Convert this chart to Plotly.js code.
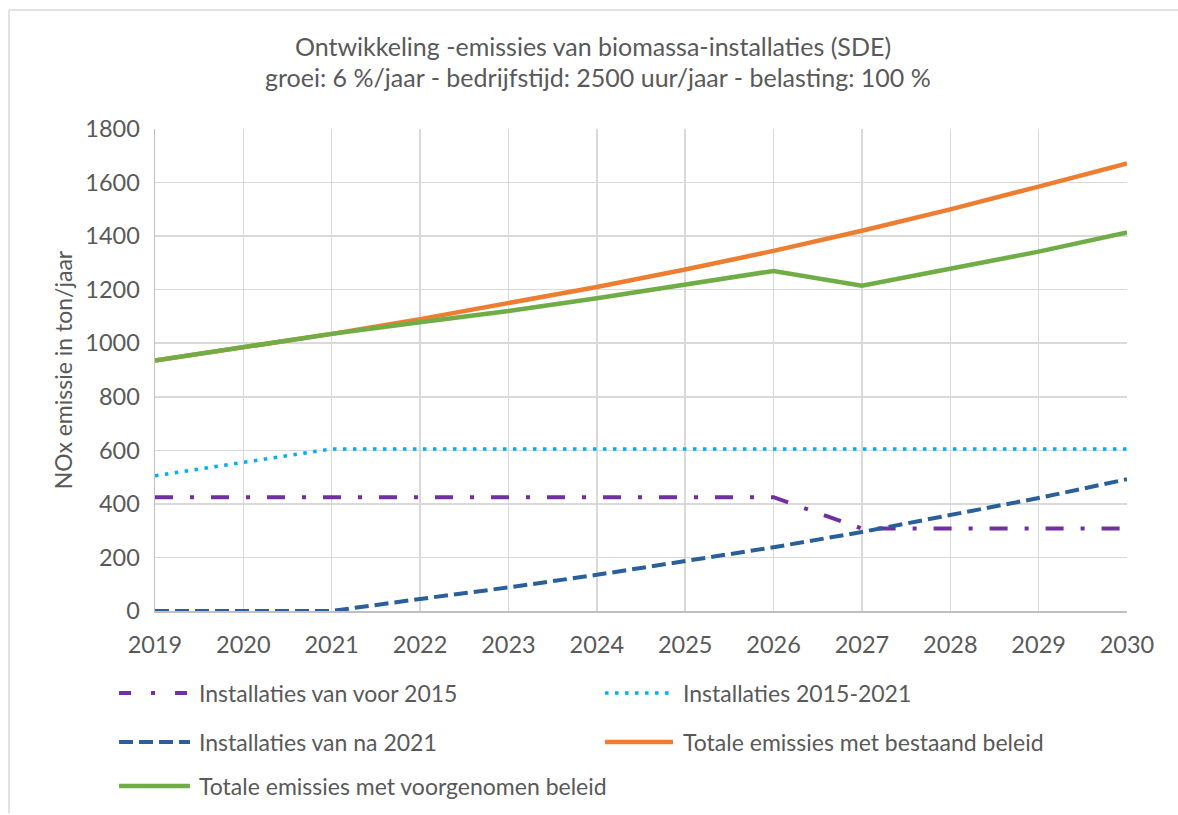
<!DOCTYPE html>
<html>
<head>
<meta charset="utf-8">
<script src="https://cdn.plot.ly/plotly-3.0.1.min.js"></script>
<style>html,body{margin:0;padding:0;background:#fff;}#chart{width:1178px;height:815px;}</style>
</head>
<body>
<div id="chart"></div>
<script>
const years = [2019, 2020, 2021, 2022, 2023, 2024, 2025, 2026, 2027, 2028, 2029, 2030];
const voor2015 = [425, 425, 425, 425, 425, 425, 425, 425, 308, 308, 308, 308];
const tussen2015_2021 = [505, 555, 605, 605, 605, 605, 605, 605, 605, 605, 605, 605];
const na2021 = [0, 0, 0, 45, 88, 135, 185, 238, 295, 357, 422, 492];
const bestaandBeleid = [935, 985, 1035, 1090, 1150, 1210, 1275, 1345, 1420, 1500, 1585, 1671];
const voorgenomenBeleid = [935, 985, 1035, 1078, 1120, 1168, 1218, 1270, 1215, 1277, 1342, 1414];
const seriesNames = ["Installaties van voor 2015", "Installaties 2015-2021", "Installaties van na 2021", "Totale emissies met bestaand beleid", "Totale emissies met voorgenomen beleid"];
const titleLine1 = "Ontwikkeling -emissies van biomassa-installaties (SDE)";
const titleLine2 = "groei: 6 %/jaar - bedrijfstijd: 2500 uur/jaar - belasting: 100 %";
const yTitle = "NOx emissie in ton/jaar";

const FONT = "Lato, 'Open Sans', sans-serif";
const GREY = "#595959";

const styles = [
  {color: "#7030a0", width: 4, dash: "18px,17px,4px,17px", legendDash: "12px,20px,4px,20px"},
  {color: "#00b0f0", width: 3.5, dash: "3.5px,6.5px", legendDash: "3.5px,6.5px"},
  {color: "#2a6099", width: 4, dash: "14px,6px", legendDash: "14px,6px"},
  {color: "#ed7d31", width: 4.5, dash: "solid", legendDash: "solid"},
  {color: "#70ad47", width: 4.5, dash: "solid", legendDash: "solid"}
];
const seriesData = [voor2015, tussen2015_2021, na2021, bestaandBeleid, voorgenomenBeleid];

const traces = seriesData.map((vals, i) => ({
  x: years, y: vals, name: seriesNames[i], mode: "lines", showlegend: false,
  line: {color: styles[i].color, width: styles[i].width, dash: styles[i].dash}
}));

// legend slots (paper coords): [symbol x0, symbol x1, text x, y]
const legendSlots = [
  [-0.0370, 0.0360, 0.0432, -0.1701],
  [0.4630, 0.5329, 0.5412, -0.1701],
  [-0.0370, 0.0360, 0.0432, -0.2718],
  [0.4630, 0.5329, 0.5412, -0.2718],
  [-0.0370, 0.0360, 0.0432, -0.3631]
];

const shapes = [
  {type: "line", xref: "paper", yref: "paper", x0: -0.1502, x1: 1.06, y0: 1.2469, y1: 1.2469,
   line: {color: "#d9d9d9", width: 1.5}},
  {type: "line", xref: "paper", yref: "paper", x0: -0.1502, x1: -0.1502, y0: 1.2469, y1: -0.42,
   line: {color: "#d9d9d9", width: 1.5}}
];
const annotations = [
  {text: titleLine2, xref: "paper", yref: "paper", x: 0.4558, y: (611 - 77) / 482, xanchor: "center", yanchor: "middle",
   showarrow: false, font: {family: FONT, size: 25, color: GREY}}
];
legendSlots.forEach((s, i) => {
  shapes.push({type: "line", xref: "paper", yref: "paper", x0: s[0], x1: s[1], y0: s[3], y1: s[3],
    line: {color: styles[i].color, width: styles[i].width, dash: styles[i].legendDash}});
  annotations.push({text: seriesNames[i], xref: "paper", yref: "paper", x: s[2], y: s[3],
    xanchor: "left", yanchor: "middle", showarrow: false, font: {family: FONT, size: 23, color: GREY}});
});

const layout = {
  width: 1178, height: 815,
  margin: {l: 155, r: 51, t: 129, b: 204},
  paper_bgcolor: "#ffffff", plot_bgcolor: "#ffffff",
  font: {family: FONT, color: GREY},
  title: {text: titleLine1, font: {family: FONT, size: 25, color: GREY},
          x: 0.5034, xanchor: "center", xref: "container", y: 1 - 47/815, yanchor: "middle", yref: "container"},
  xaxis: {range: [2019, 2030], tickmode: "array", tickvals: years, ticktext: years.map(String),
          showgrid: true, gridcolor: "#d9d9d9", gridwidth: 1.5, showline: true, linecolor: "#bfbfbf", linewidth: 1.5,
          zeroline: false, ticks: "", ticklabelstandoff: 12, tickfont: {family: FONT, size: 23.5, color: GREY}, fixedrange: true},
  yaxis: {range: [0, 1800], dtick: 200, tick0: 0, showgrid: true, gridcolor: "#d9d9d9", gridwidth: 1.5,
          showline: true, linecolor: "#bfbfbf", linewidth: 1.5, zeroline: false, ticks: "",
          ticklabelstandoff: 9, tickfont: {family: FONT, size: 23.5, color: GREY},
          title: {text: yTitle, font: {family: FONT, size: 23, color: GREY}, standoff: 6}, fixedrange: true},
  shapes: shapes,
  annotations: annotations,
  showlegend: false
};

Plotly.newPlot("chart", traces, layout, {staticPlot: true, displayModeBar: false});
</script>
</body>
</html>
